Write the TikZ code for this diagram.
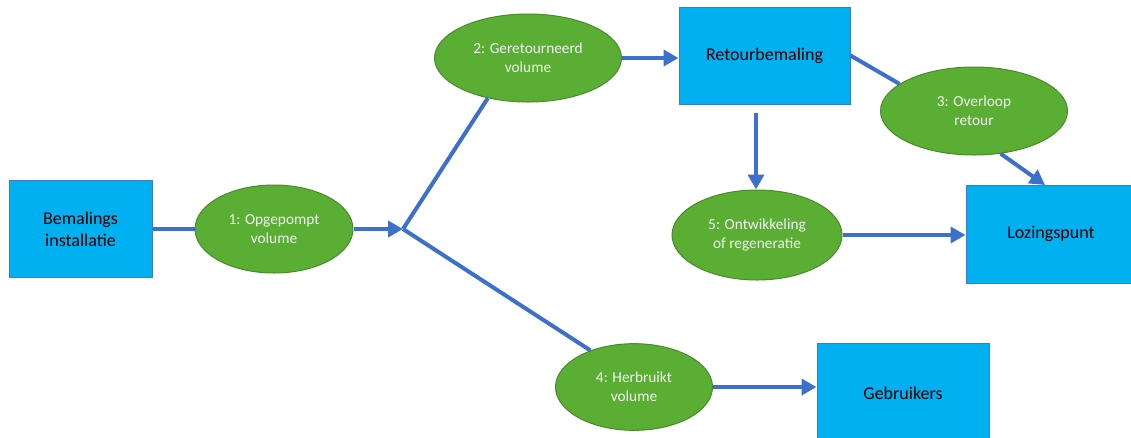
\documentclass[tikz,border=0pt]{standalone}
\usepackage{fontspec}
\setmainfont{Carlito}
\usetikzlibrary{arrows.meta,shapes.geometric}
\definecolor{boxblue}{RGB}{0,176,240}
\definecolor{boxedge}{RGB}{58,125,195}
\definecolor{ellgreen}{RGB}{90,174,51}
\definecolor{elledge}{RGB}{74,138,42}
\definecolor{flow}{RGB}{60,112,204}
\definecolor{elltext}{RGB}{242,242,242}
\tikzset{
  boxnode/.style={draw=boxedge, line width=0.75pt, fill=boxblue, rectangle,
    inner sep=0pt, align=center, font=\fontsize{13.5pt}{16.5pt}\selectfont, text=black},
  ellnode/.style={draw=elledge, line width=0.75pt, fill=ellgreen, ellipse,
    inner sep=0pt, align=center, font=\fontsize{11.5pt}{14.5pt}\selectfont, text=elltext},
  flowline/.style={draw=flow, line width=3pt},
  flowarrow/.style={flowline, -{Triangle[length=11.25pt,width=12pt]}}
}
\begin{document}
\begin{tikzpicture}[x=0.75pt,y=-0.75pt]
\useasboundingbox (0,0) rectangle (1131,437);
% boxes
\node[boxnode, minimum width=107.25pt, minimum height=72.75pt] (bem) at (80.5,229) {Bemalings\\installatie};
\node[boxnode, minimum width=128.25pt, minimum height=72.75pt] (ret) at (764.5,55.5) {Retourbemaling};
\node[boxnode, minimum width=127.5pt, minimum height=73.5pt] (loz) at (1051,234) {Lozingspunt};
\node[boxnode, minimum width=129pt, minimum height=75pt] (geb) at (903,393) {Gebruikers};
% ellipses
\node[ellnode, minimum width=118.5pt, minimum height=66pt] (e1) at (274,229) {1: Opgepompt\\volume};
\node[ellnode, minimum width=140.25pt, minimum height=66pt] (e2) at (528,58) {2: Geretourneerd\\volume};
\node[ellnode, minimum width=140.25pt, minimum height=66pt] (e3) at (974,111) {3: Overloop\\retour};
\node[ellnode, minimum width=117.75pt, minimum height=65pt] (e4) at (634,387) {4: Herbruikt\\volume};
\node[ellnode, minimum width=127.5pt, minimum height=67.5pt] (e5) at (757,235) {5: Ontwikkeling\\of regeneratie};
% coordinates
\coordinate (junc) at (403,229);
\coordinate (rs) at (756,113);
\coordinate (loztop) at (1045,185);
% connectors
\draw[flowline] (bem) -- (e1);
\draw[flowarrow] (e1.east) -- (junc);
\draw[flowline] (junc) -- (e2.225);
\draw[flowline] (junc) -- (e4.140);
\draw[flowarrow] (e2.east) -- (e2.east -| ret.west);
\draw[flowline] (ret.east) -- (e3.160);
\draw[flowarrow] (e3.302) -- (loztop);
\draw[flowarrow] (rs) -- (rs |- e5.north);
\draw[flowarrow] (e5.east) -- (e5.east -| loz.west);
\draw[flowarrow] (e4.east) -- (e4.east -| geb.west);
\end{tikzpicture}
\end{document}
